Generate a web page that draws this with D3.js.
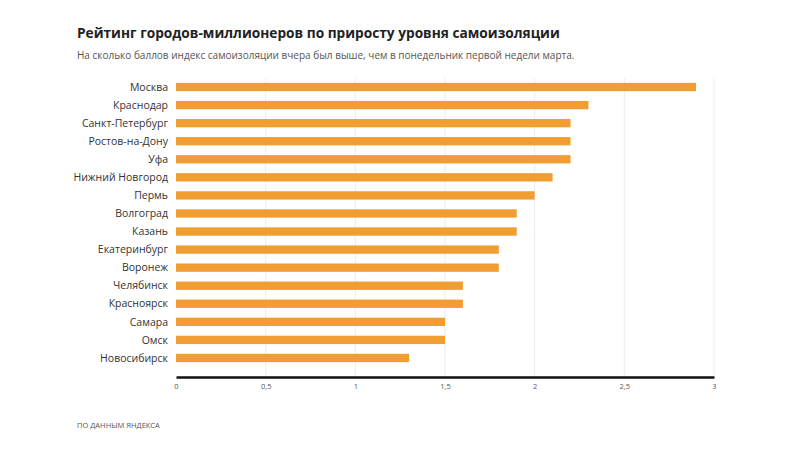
<!DOCTYPE html>
<html><head><meta charset="utf-8">
<script src="https://cdn.jsdelivr.net/npm/d3@7"></script>
<style>body{margin:0;background:#fff;} svg{display:block;}</style>
</head><body><svg id="c" width="800" height="450"></svg>
<script>
const cities = ["Москва","Краснодар","Санкт-Петербург","Ростов-на-Дону","Уфа","Нижний Новгород","Пермь","Волгоград","Казань","Екатеринбург","Воронеж","Челябинск","Красноярск","Самара","Омск","Новосибирск"];
const values = [2.9,2.3,2.2,2.2,2.2,2.1,2.0,1.9,1.9,1.8,1.8,1.6,1.6,1.5,1.5,1.3];
const tickValues = [0,0.5,1,1.5,2,2.5,3];
const tickLabels = ["0","0,5","1","1,5","2","2,5","3"];

const svg = d3.select("#c");
const font = "'Open Sans', sans-serif";
const x = d3.scaleLinear().domain([0,3]).range([176,714]);
const y = d3.scaleBand().domain(cities).range([78,367]).paddingInner(0.54).paddingOuter(0.27);

svg.append("text").attr("x",77).attr("y",38).attr("font-family",font).attr("font-weight",700)
  .attr("font-size",13.7).attr("fill","#222").text("Рейтинг городов-миллионеров по приросту уровня самоизоляции");
svg.append("text").attr("x",77).attr("y",59).attr("font-family",font)
  .attr("font-size",10).attr("fill","#555").text("На сколько баллов индекс самоизоляции вчера был выше, чем в понедельник первой недели марта.");

// gridlines
svg.append("g").selectAll("line").data(tickValues.slice(1)).join("line")
  .attr("x1",d=>x(d)).attr("x2",d=>x(d)).attr("y1",78).attr("y2",376)
  .attr("stroke","#ececec").attr("stroke-width",1);

svg.append("g").selectAll("rect").data(values).join("rect")
  .attr("x",x(0)).attr("y",(d,i)=>y(cities[i])).attr("height",y.bandwidth())
  .attr("width",d=>x(d)-x(0)).attr("fill","#f09d32");

svg.append("g").selectAll("text").data(cities).join("text")
  .attr("x",168).attr("y",d=>y(d)+y.bandwidth()/2).attr("dy","0.35em")
  .attr("text-anchor","end").attr("font-family",font).attr("font-size",10.5).attr("fill","#333").text(d=>d);

const ax = svg.append("g").attr("transform","translate(0,377)")
  .call(d3.axisBottom(x).tickValues(tickValues).tickFormat((d,i)=>tickLabels[i]).tickSize(0).tickPadding(7));
ax.select(".domain").attr("stroke","#111").attr("stroke-width",2.5);
ax.selectAll("text").attr("font-family",font).attr("font-size",7.5).attr("fill","#555");

svg.append("text").attr("x",77).attr("y",428).attr("font-family",font)
  .attr("font-size",7.5).attr("fill","#555").text("ПО ДАННЫМ ЯНДЕКСА");
</script></body></html>
